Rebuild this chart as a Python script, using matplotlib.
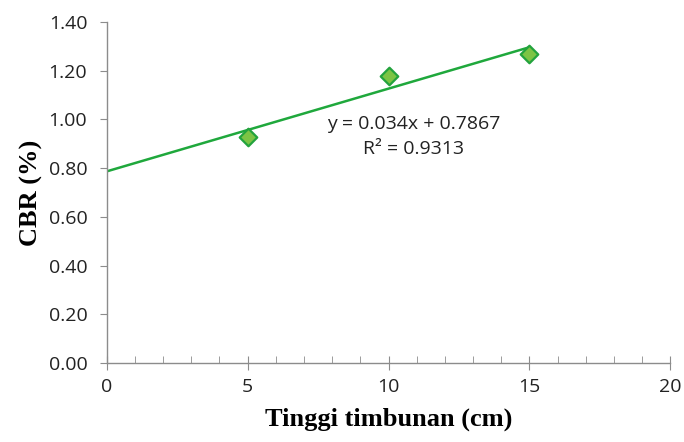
import numpy as np
import matplotlib.pyplot as plt
from matplotlib.ticker import MultipleLocator

# Data
tinggi = [5, 10, 15]
cbr = [0.93, 1.18, 1.27]
slope = 0.034
intercept = 0.7867
r2 = 0.9313

fig = plt.figure(figsize=(6.84, 4.42), dpi=100)
ax = fig.add_axes([0.156, 0.179, 0.824, 0.771])

# trendline from 0 to last point
xl = np.array([0, max(tinggi)])
ax.plot(xl, slope * xl + intercept, color='#1fa83c', linewidth=1.8, zorder=2)
ax.scatter(tinggi, cbr, marker='D', s=80, facecolor='#7cc444', edgecolor='#23a33d',
           linewidth=1.6, zorder=3)

ax.text(10.9, 0.93, 'y = %.3fx + %.4f\nR² = %.4f' % (slope, intercept, r2),
        ha='center', va='center', fontsize=14, family='Open Sans', color='#222222',
        linespacing=1.45)

ax.set_xlim(0, 20)
ax.set_ylim(0, 1.4)
ax.xaxis.set_major_locator(MultipleLocator(5))
ax.xaxis.set_minor_locator(MultipleLocator(1))
ax.yaxis.set_major_locator(MultipleLocator(0.2))
ax.yaxis.set_major_formatter(plt.FuncFormatter(lambda v, p: '%.2f' % v))

for s in ['top', 'right']:
    ax.spines[s].set_visible(False)
for s in ['left', 'bottom']:
    ax.spines[s].set_color('#8c8c8c')
    ax.spines[s].set_linewidth(1.0)

ax.tick_params(axis='x', which='major', direction='inout', length=10, color='#8c8c8c',
               pad=6)
ax.tick_params(axis='x', which='minor', direction='in', length=5, color='#8c8c8c')
ax.tick_params(axis='y', which='major', direction='out', length=5, color='#8c8c8c', pad=9)
for lab in ax.get_xticklabels() + ax.get_yticklabels():
    lab.set_family('Open Sans')
    lab.set_fontsize(14)
    lab.set_color('#222222')

ax.set_xlabel('Tinggi timbunan (cm)', family='Liberation Serif', fontweight='bold',
              fontsize=19, labelpad=8)
ax.set_ylabel('CBR (%)', family='Liberation Serif', fontweight='bold',
              fontsize=19, labelpad=4)

fig.savefig('out.png', dpi=100)
